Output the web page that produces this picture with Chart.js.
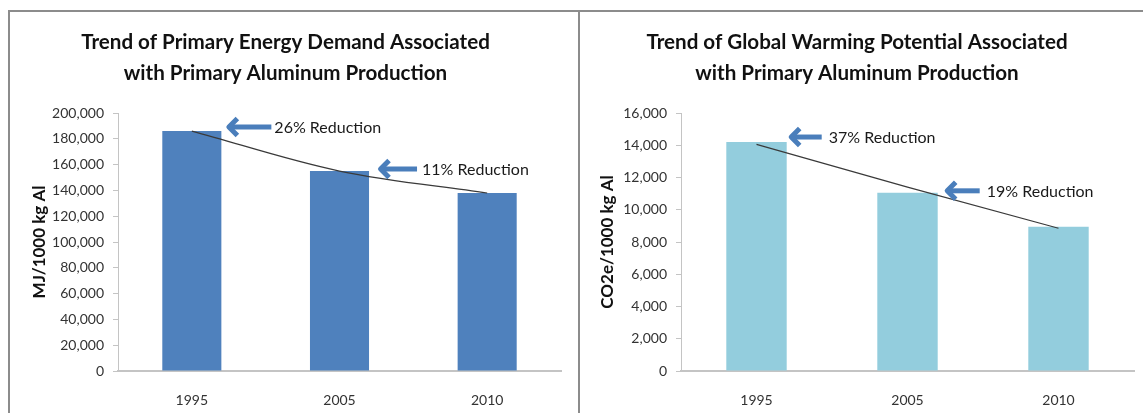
<!DOCTYPE html>
<html>
<head>
<meta charset="utf-8">
<script src="https://cdn.jsdelivr.net/npm/chart.js@4.4.1/dist/chart.umd.min.js"></script>
<style>
  html, body { margin: 0; padding: 0; background: #fff; }
  body { width: 1143px; height: 413px; position: relative; overflow: hidden; }
  .rule-top { position: absolute; top: 10px; left: 8px; right: 0; height: 2px; background: #8c8c8c; }
  .rule-left { position: absolute; top: 10px; left: 8px; width: 2px; bottom: 0; background: #8c8c8c; }
  .rule-mid { position: absolute; top: 10px; left: 578px; width: 2px; bottom: 0; background: #8c8c8c; }
  .panel { position: absolute; top: 12px; height: 401px; }
  #panel-energy { left: 10px; width: 568px; }
  #panel-gwp { left: 580px; width: 563px; }
</style>
</head>
<body>
<div class="rule-top"></div>
<div class="rule-left"></div>
<div class="rule-mid"></div>
<div class="panel" id="panel-energy"><canvas id="chart-energy"></canvas></div>
<div class="panel" id="panel-gwp"><canvas id="chart-gwp"></canvas></div>

<script>
const years = ["1995", "2005", "2010"];

// primary energy demand, MJ per 1000 kg Al
const energyValues = [186000, 155000, 138000];
const energyTrend = [186000, 155000, 138000];
const energyNotes = ["26% Reduction", "11% Reduction"];
const energyNoteBars = [0, 1];

// global warming potential, kg CO2e per 1000 kg Al
const gwpValues = [14200, 11050, 8950];
const gwpTrend = [14050, 11400, 8850];
const gwpNotes = ["37% Reduction", "19% Reduction"];
const gwpNoteBars = [0, 1];

const FONT = "Lato, 'Open Sans', sans-serif";
const ARROW_BLUE = "#4a7ebb";

// block arrows pointing back at a bar, with a text label behind the tail
const reductionArrows = {
  id: "reductionArrows",
  afterDatasetsDraw(chart, args, opts) {
    const bars = chart.getDatasetMeta(1).data;
    const ctx = chart.ctx;
    ctx.save();
    opts.items.forEach((a) => {
      const bar = bars[a.bar];
      const tipX = bar.x + bar.width / 2 + a.dx;
      const tipY = bar.y + a.dy;
      const tailX = tipX + a.length;
      ctx.strokeStyle = ARROW_BLUE;
      ctx.lineWidth = 5;
      ctx.lineCap = "butt";
      ctx.beginPath();
      ctx.moveTo(tipX + 4, tipY);
      ctx.lineTo(tailX, tipY);
      ctx.stroke();
      ctx.lineJoin = "round";
      ctx.beginPath();
      ctx.moveTo(tipX + 11, tipY - 8.5);
      ctx.lineTo(tipX + 2.5, tipY);
      ctx.lineTo(tipX + 11, tipY + 8.5);
      ctx.stroke();
      ctx.fillStyle = "#1a1a1a";
      ctx.font = "16px " + FONT;
      ctx.textBaseline = "middle";
      ctx.textAlign = "left";
      ctx.fillText(a.text, tailX + a.gap, tipY + 1);
    });
    ctx.restore();
  },
};

function makeChart(id, cfg) {
  return new Chart(document.getElementById(id), {
    type: "bar",
    data: {
      labels: years,
      datasets: [
        {
          type: "line",
          data: cfg.trend,
          borderColor: "#3a3a3a",
          borderWidth: 1.2,
          pointRadius: 0,
          tension: cfg.tension,
          fill: false,
          order: 0,
        },
        {
          data: cfg.values,
          backgroundColor: cfg.barColor,
          borderWidth: 0,
          barPercentage: 0.4,
          categoryPercentage: 1,
          order: 1,
        },
      ],
    },
    options: {
      responsive: true,
      maintainAspectRatio: false,
      animation: false,
      layout: { padding: { left: 0, right: cfg.rightPad, top: 0, bottom: 0 } },
      plugins: {
        legend: { display: false },
        tooltip: { enabled: false },
        title: {
          display: true,
          text: cfg.title,
          color: "#111",
          font: { family: FONT, size: 20.6, weight: "bold", lineHeight: 1.5 },
          padding: { top: 15, bottom: 24.2 },
        },
        reductionArrows: { items: cfg.arrows },
      },
      scales: {
        x: {
          grid: { display: false },
          border: { display: true, color: "#c4c4c4", width: 2 },
          ticks: { color: "#333", font: { family: FONT, size: 14 }, padding: 13 },
          afterFit: (s) => { s.height = 42; },
        },
        y: {
          min: 0,
          max: cfg.max,
          grid: { drawOnChartArea: false, drawTicks: true, tickLength: 5, color: "#c4c4c4" },
          border: { display: true, color: "#c4c4c4", width: 1 },
          ticks: {
            stepSize: cfg.step,
            color: "#333",
            padding: 9,
            font: { family: FONT, size: 14 },
            callback: (v) => Number(v).toLocaleString("en-US"),
          },
          title: {
            display: true,
            text: cfg.yTitle,
            color: "#111",
            font: { family: FONT, size: 17, weight: "bold" },
            padding: { top: cfg.yTitlePad, bottom: 0 },
          },
          afterFit: (s) => { s.width = cfg.axisWidth; },
        },
      },
    },
    plugins: [reductionArrows],
  });
}

makeChart("chart-energy", {
  title: ["Trend of Primary Energy Demand Associated", "with Primary Aluminum Production"],
  values: energyValues,
  trend: energyTrend,
  tension: 0.35,
  barColor: "#4f81bd",
  max: 200000,
  step: 20000,
  yTitle: "MJ/1000 kg Al",
  yTitlePad: 19.5,
  axisWidth: 108,
  rightPad: 17,
  arrows: [
    { bar: energyNoteBars[0], text: energyNotes[0], dx: 5, dy: -4, length: 45, gap: 3 },
    { bar: energyNoteBars[1], text: energyNotes[1], dx: 9, dy: -2, length: 39, gap: 5 },
  ],
});

makeChart("chart-gwp", {
  title: ["Trend of Global Warming Potential Associated", "with Primary Aluminum Production"],
  values: gwpValues,
  trend: gwpTrend,
  tension: 0,
  barColor: "#93cddd",
  max: 16000,
  step: 2000,
  yTitle: "CO2e/1000 kg Al",
  yTitlePad: 17.5,
  axisWidth: 101,
  rightPad: 9,
  arrows: [
    { bar: gwpNoteBars[0], text: gwpNotes[0], dx: 2, dy: -5, length: 33, gap: 7 },
    { bar: gwpNoteBars[1], text: gwpNotes[1], dx: 7, dy: -2, length: 35, gap: 7 },
  ],
});
</script>
</body>
</html>
